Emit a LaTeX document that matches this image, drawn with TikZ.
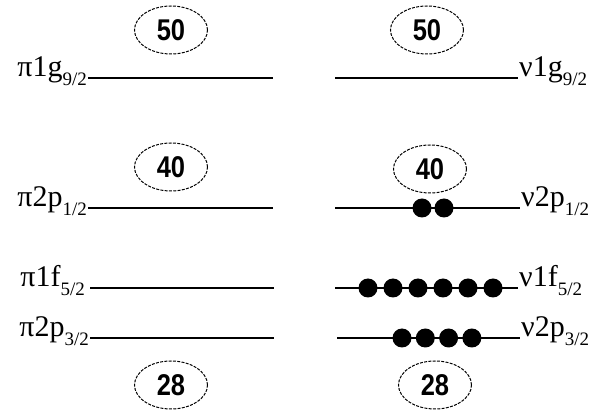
\documentclass[tikz,border=0pt]{standalone}
\usepackage{fontspec}
\setmainfont{Liberation Serif}
\newfontfamily\numfont[FakeStretch=0.85]{Liberation Sans}
\usepackage{tikz}
\usetikzlibrary{shapes,positioning}

\newcommand{\lab}[2]{\fontsize{30}{30}\selectfont #1\raisebox{-0.3em}{\fontsize{19}{19}\selectfont #2}}

\begin{document}
\begin{tikzpicture}[
    x=1pt, y=1pt,
    level/.style={line width=1.5pt},
    magic/.style={ellipse, draw, dash pattern=on 3pt off 1.3pt, line width=1pt,
                  minimum width=73pt, minimum height=48pt, inner sep=0pt,
                  font=\numfont\bfseries\fontsize{30}{30}\selectfont},
    lab/.style={inner sep=1pt},
    nucleon/.style={circle, fill=black, minimum width=16pt, minimum height=19pt, inner sep=0pt}
]
\useasboundingbox (0,0) rectangle (598,410);

% proton levels
\coordinate (pg1) at (88,332);  \coordinate (pg2) at (273,332);
\coordinate (pp1) at (88,202);  \coordinate (pp2) at (273,202);
\coordinate (pf1) at (90,122);  \coordinate (pf2) at (274,122);
\coordinate (pq1) at (90,72);   \coordinate (pq2) at (274,72);
% neutron levels
\coordinate (ng1) at (335,332);  \coordinate (ng2) at (518,332);
\coordinate (np1) at (335,202);  \coordinate (np2) at (520,202);
\coordinate (nf1) at (335,122);  \coordinate (nf2) at (518,122);
\coordinate (nq1) at (337,72);   \coordinate (nq2) at (520,72);

\draw[level] (pg1) -- (pg2);
\draw[level] (pp1) -- (pp2);
\draw[level] (pf1) -- (pf2);
\draw[level] (pq1) -- (pq2);
\draw[level] (ng1) -- (ng2);
\draw[level] (np1) -- (np2);
\draw[level] (nf1) -- (nf2);
\draw[level] (nq1) -- (nq2);

\node[lab, anchor=base east] (lpg) at ([yshift=1pt]pg1) {\lab{π1g}{9/2}};
\node[lab, anchor=base east] (lpp) at ([yshift=1pt]pp1) {\lab{π2p}{1/2}};
\node[lab, anchor=base east] (lpf) at ([xshift=-4pt,yshift=1pt]pf1) {\lab{π1f}{5/2}};
\node[lab, anchor=base east] (lpq) at ([yshift=1pt]pq1) {\lab{π2p}{3/2}};
\node[lab, anchor=base west] (lng) at ([yshift=1pt]ng2) {\lab{ν1g}{9/2}};
\node[lab, anchor=base west] (lnp) at ([yshift=1pt]np2) {\lab{ν2p}{1/2}};
\node[lab, anchor=base west] (lnf) at ([yshift=1pt]nf2) {\lab{ν1f}{5/2}};
\node[lab, anchor=base west] (lnq) at ([yshift=1pt]nq2) {\lab{ν2p}{3/2}};

% shell gaps
\node[magic] (p50) at (171,380) {50};
\node[magic] (n50) at (427,380) {50};
\node[magic] (p40) at (171,243) {40};
\node[magic] (n40) at (430,241) {40};
\node[magic] (p28) at (171,25) {28};
\node[magic] (n28) at (435,25) {28};

% neutrons
\foreach \x in {422,444}
  \node[nucleon] at (\x,202) {};
\foreach \i in {0,...,5}
  \node[nucleon] at (368+25*\i,122) {};
\foreach \i in {0,...,3}
  \node[nucleon] at (402+23.3*\i,72) {};
\end{tikzpicture}
\end{document}
